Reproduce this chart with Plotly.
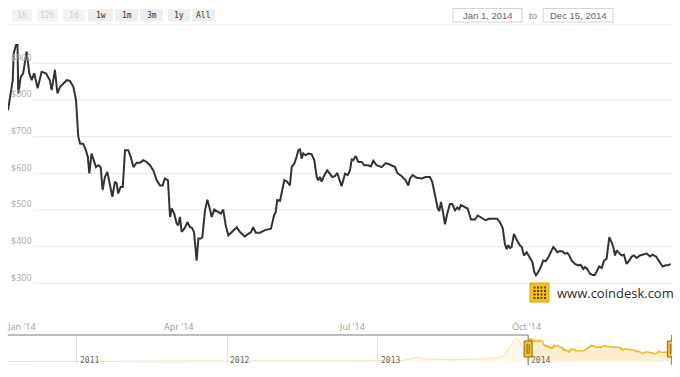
import plotly.graph_objects as go
import pandas as pd

# ---------------- data ----------------
# days after 2014-01-01 and BPI close price (USD)
days_2014 = [0, 1, 2.5, 3, 4.2, 5, 5.4, 6.7, 8, 9.8, 11.2, 12.5, 13.8, 15.6, 17.7, 20, 22, 23, 24.7, 26,
             27.4, 30.9, 32.6, 34.4, 35.8, 37, 37.9, 39.6, 41, 42, 42.8, 44, 45.3, 46.3, 47.5, 48.8, 49.8,
             51, 52.3, 53.7, 54.9, 56.3, 57.2, 58, 59.3, 60.4, 61.6, 63.3, 64.6, 66, 67.7, 69.5, 71.2, 73,
             74.7, 76.5, 78.3, 80, 81.4, 82.6, 84.2, 85.3, 86.2, 87.5, 88.8, 89.6, 90.5, 91.4, 92.8, 94.6,
             95.8, 96.7, 97.9, 99.3, 100.2, 101.6, 102.3, 103.7, 104.9, 106, 107.2, 108.6, 110.7, 112.1,
             113.3, 114.6, 116, 117.7, 120.4, 122.1, 124.7, 126.5, 127.9, 129.1, 130.4, 132.6, 135.3,
             138.4, 139.1, 140, 140.9, 141.7, 143.2, 144.4, 145.4, 146.7, 147.5, 148.4, 149.3, 150.7,
             151.9, 152.8, 153.7, 154.6, 155.4, 156.7, 158.1, 159.8, 161.2, 162.5, 163.3, 164.2, 165.1,
             166.5, 168, 169.5, 170.7, 172.1, 173.3, 175.6, 177.4, 178.8, 180, 180.9, 181.7, 183, 184.4,
             186.2, 187.5, 189.6, 191, 192.3, 194, 196.7, 198.8, 201, 203.7, 204.9, 207.2, 209.3, 210.7,
             211.6, 213, 215.1, 217.7, 219.8, 222.1, 223.3, 224.7, 226.2, 227, 227.9, 229.1, 230, 231.2,
             232.6, 233.8, 235.3, 236.5, 237.4, 238.4, 240.5, 241.9, 243.7, 245.8, 247.2, 249.3, 251.4,
             253.2, 255.4, 257.5, 258.9, 260.4, 261.6, 262.5, 263.3, 264.2, 265.1, 266.3, 267.7, 269.5,
             270.4, 271.6, 273, 274.7, 276, 277, 277.9, 279.1, 280.4, 281.7, 283, 284.4, 285.6, 287,
             287.9, 289.1, 290.5, 291.9, 293.2, 294.4, 295.4, 296.7, 298.4, 300.2, 301.4, 302.8, 303.7,
             304.9, 306.3, 307.7, 308.9, 310.2, 311.2, 312.5, 313.7, 315.1, 316.5, 317.7, 318.6, 319.5,
             320.4, 321.6, 323, 324.2, 325.6, 327, 328.3, 329.5, 330.9, 332.6, 334.4, 336.2, 337.9,
             339.3, 341.1, 342.8, 344.6, 346.2, 347.5, 348.8]
price_2014 = [772, 809, 854, 927, 950, 950, 818, 863, 873, 932, 873, 854, 873, 832, 877, 873, 854, 827, 882, 818,
              836, 854, 852, 836, 800, 700, 681, 680, 663, 645, 600, 654, 636, 617, 622, 617, 554,
              590, 604, 563, 536, 577, 572, 545, 563, 563, 663, 663, 645, 617, 629, 629, 636, 631,
              622, 608, 581, 567, 567, 586, 581, 481, 504, 490, 463, 458, 481, 440, 449, 467,
              453, 452, 440, 362, 422, 422, 426, 499, 528, 508, 481, 501, 494, 490,
              501, 458, 431, 440, 453, 440, 428, 435, 440, 453, 438, 438, 445,
              449, 467, 485, 494, 527, 525, 558, 581, 578, 572, 567, 617, 627,
              645, 663, 665, 640, 654, 649, 654, 652, 636, 590, 581, 590, 577,
              595, 608, 599, 590, 592, 601, 565, 599, 595, 608, 638, 636, 647, 631,
              631, 622, 622, 619, 634, 622, 617, 628, 624, 617, 601, 592, 581, 567,
              586, 595, 588, 586, 590, 590, 577, 545, 504, 497, 522, 490, 461, 490,
              516, 516, 499, 507, 502, 513, 508, 504, 474, 474, 485, 479, 472,
              476, 476, 476, 467, 450, 406, 393, 404, 396, 399, 435, 419, 403,
              399, 376, 385, 371, 358, 331, 322, 331, 344, 362, 360, 371, 385, 399,
              394, 385, 388, 387, 381, 383, 376, 362, 353, 349, 351, 339, 344,
              339, 326, 323, 323, 337, 346, 342, 362, 367, 426, 412, 399, 376,
              390, 383, 376, 378, 353, 362, 373, 376, 369, 376, 378, 381, 373,
              378, 373, 358, 346, 349, 349, 353]

# navigator history before 2014 (read from the small overview strip)
nav_hist_dates = ["2010-07-17", "2011-02-10", "2011-06-08", "2011-11-20", "2012-06-01", "2012-12-31",
                  "2013-02-28", "2013-04-09", "2013-04-20", "2013-07-05", "2013-10-01", "2013-11-01",
                  "2013-11-18", "2013-12-01", "2013-12-04", "2013-12-10", "2013-12-18", "2013-12-26",
                  "2013-12-31"]
nav_hist_price = [0.1, 1, 25, 2, 5, 13, 33, 185, 110, 70, 125, 200, 650, 940, 963, 880, 560, 700, 750]

y_tick_vals = [300, 400, 500, 600, 700, 800, 900]
y_tick_text = ["$300", "$400", "$500", "$600", "$700", "$800", "$900"]
x_tick_dates = ["2014-01-01", "2014-04-01", "2014-07-01", "2014-10-01"]
x_tick_text = ["Jan '14", "Apr '14", "Jul '14", "Oct '14"]
nav_year_dates = ["2011-01-01", "2012-01-01", "2013-01-01", "2014-01-01"]
nav_year_text = ["2011", "2012", "2013", "2014"]
range_buttons = ["1h", "12h", "1d", "1w", "1m", "3m", "1y", "All"]
range_enabled = [False, False, False, True, True, True, True, True]
date_from = "Jan 1, 2014"
date_to = "Dec 15, 2014"
sel_start, sel_end = "2014-01-01", "2014-12-15"

# ---------------- build ----------------
start = pd.Timestamp("2014-01-01")
dates_2014 = [start + pd.Timedelta(hours=round(d * 24)) for d in days_2014]

W, H = 680, 377
ML, MR, MT, MB = 8, 8, 27, 12
PW, PH = W - ML - MR, H - MT - MB


def px(x):
    return (x - ML) / PW


def py(y):
    return (H - MB - y) / PH


fig = go.Figure()

# navigator series
fig.add_trace(go.Scatter(
    x=pd.to_datetime(nav_hist_dates).tolist() + [dates_2014[0]],
    y=nav_hist_price + [price_2014[0]],
    xaxis="x2", yaxis="y2", mode="lines",
    line=dict(color="#f4e4ad", width=1), fill="tozeroy",
    fillcolor="rgba(250,236,200,0.35)", hoverinfo="skip", showlegend=False))
fig.add_trace(go.Scatter(
    x=dates_2014, y=price_2014, xaxis="x2", yaxis="y2", mode="lines",
    line=dict(color="#e8bb22", width=1.5), fill="tozeroy",
    fillcolor="rgba(247,205,120,0.35)", hoverinfo="skip", showlegend=False))

# main series
fig.add_trace(go.Scatter(
    x=dates_2014, y=price_2014, mode="lines",
    line=dict(color="#333333", width=2), showlegend=False))

shapes = []
annotations = []

# main gridlines
for v in y_tick_vals:
    shapes.append(dict(type="line", xref="paper", yref="y", x0=px(33), x1=1, y0=v, y1=v,
                       line=dict(color="#e8e8e8", width=1), layer="below"))
for v, t in zip(y_tick_vals, y_tick_text):
    annotations.append(dict(xref="paper", yref="y", x=0, y=v, text=t, showarrow=False,
                            xanchor="left", yanchor="middle", xshift=1, yshift=6,
                            font=dict(family="Open Sans", size=9, color="#aaaaaa")))

# x labels of main chart
for d, t in zip(x_tick_dates, x_tick_text):
    first = d == x_tick_dates[0]
    annotations.append(dict(xref="x", yref="paper", x=d, y=py(326), text=t, showarrow=False,
                            xanchor="left" if first else "center", yanchor="middle",
                            xshift=-3 if first else 0,
                            font=dict(family="Open Sans", size=9, color="#999999")))

# top separator
shapes.append(dict(type="line", xref="paper", yref="paper", x0=0, x1=1, y0=py(25), y1=py(25),
                   line=dict(color="#ececec", width=1)))

# range selector buttons
btn_x = [(12, 32), (37, 58), (63, 85), (88, 113), (115, 138), (140, 163), (168, 190), (192, 215)]
for (x0, x1), lab, en in zip(btn_x, range_buttons, range_enabled):
    shapes.append(dict(type="rect", xref="paper", yref="paper", x0=px(x0), x1=px(x1),
                       y0=py(21.5), y1=py(9), fillcolor="#eeeeee" if en else "#f3f3f3",
                       line=dict(width=0)))
    annotations.append(dict(xref="paper", yref="paper", x=px((x0 + x1) / 2), y=py(15.5),
                            text=lab, showarrow=False, xanchor="center", yanchor="middle",
                            font=dict(family="DejaVu Sans Mono", size=8,
                                      color="#333333" if en else "#cccccc")))

# date inputs
for (x0, x1), lab in zip([(453, 522), (543, 613)], [date_from, date_to]):
    shapes.append(dict(type="rect", xref="paper", yref="paper", x0=px(x0), x1=px(x1),
                       y0=py(22), y1=py(8.5), fillcolor="white",
                       line=dict(color="#d4d4d4", width=1)))
    annotations.append(dict(xref="paper", yref="paper", x=px((x0 + x1) / 2), y=py(15.5),
                            text=lab, showarrow=False, xanchor="center", yanchor="middle",
                            font=dict(family="Liberation Sans", size=9.5, color="#666666")))
annotations.append(dict(xref="paper", yref="paper", x=px(533), y=py(15.5), text="to",
                        showarrow=False, xanchor="center", yanchor="middle",
                        font=dict(family="Liberation Sans", size=9.5, color="#888888")))

# navigator outline and handles
shapes.append(dict(type="line", xref="x2", yref="paper", x0="2010-07-17", x1=sel_start,
                   y0=py(335), y1=py(335), line=dict(color="#7a7a7a", width=1.2)))
for d in [sel_start, sel_end]:
    shapes.append(dict(type="line", xref="x2", yref="paper", x0=d, x1=d,
                       y0=py(365), y1=py(335), line=dict(color="#7a7a7a", width=1)))
    shapes.append(dict(type="rect", xref="x2", yref="paper", xsizemode="pixel", xanchor=d,
                       x0=-4, x1=4, y0=py(357), y1=py(341), fillcolor="#f2c22f",
                       line=dict(color="#8a6a14", width=1)))
    shapes.append(dict(type="line", xref="x2", yref="paper", xsizemode="pixel", xanchor=d,
                       x0=-1, x1=-1, y0=py(354), y1=py(344), line=dict(color="#8a6a14", width=1)))
    shapes.append(dict(type="line", xref="x2", yref="paper", xsizemode="pixel", xanchor=d,
                       x0=1, x1=1, y0=py(354), y1=py(344), line=dict(color="#8a6a14", width=1)))

for d, t in zip(nav_year_dates, nav_year_text):
    annotations.append(dict(xref="x2", yref="paper", x=d, y=py(360), text=t, showarrow=False,
                            xanchor="left", yanchor="middle", xshift=1,
                            font=dict(family="DejaVu Sans Mono", size=8, color="#666666")))

# coindesk logo
shapes.append(dict(type="rect", xref="paper", yref="paper", x0=px(530), x1=px(549),
                   y0=py(302), y1=py(283), fillcolor="#f5c21b", line=dict(color="#e0a800", width=1)))
for i in range(4):
    for j in range(4):
        cx, cy = 533.5 + i * 3.5, 286.5 + j * 3.5
        shapes.append(dict(type="rect", xref="paper", yref="paper", x0=px(cx), x1=px(cx + 2),
                           y0=py(cy + 2), y1=py(cy), fillcolor="#5a4000", line=dict(width=0)))
annotations.append(dict(xref="paper", yref="paper", x=px(555), y=py(292.5),
                        text="www.coindesk.com", showarrow=False, xanchor="left", yanchor="middle",
                        font=dict(family="Open Sans", size=13, color="#2b2b2b")))

fig.update_layout(
    width=W, height=H, margin=dict(l=ML, r=MR, t=MT, b=MB),
    paper_bgcolor="white", plot_bgcolor="white", showlegend=False,
    xaxis=dict(domain=[0, 1], range=["2014-01-01", "2014-12-16 12:00"], anchor="y",
               showgrid=False, zeroline=False, showticklabels=False, showline=False),
    yaxis=dict(domain=[py(315), 1], range=[213.6, 999], showgrid=False, zeroline=False,
               showticklabels=False),
    xaxis2=dict(domain=[0, 1], range=["2010-07-17 12:00", "2014-12-16 12:00"], anchor="y2",
                showgrid=True, gridcolor="#e6e6e6", gridwidth=1, tickvals=nav_year_dates,
                showticklabels=False, zeroline=False, showline=False, ticks=""),
    yaxis2=dict(domain=[0, py(335)], range=[-143, 1086], showgrid=False, zeroline=False,
                showticklabels=False),
    shapes=shapes, annotations=annotations,
)

fig.write_html("out.html", config={"displayModeBar": False},
               post_script="document.body.style.margin='0';document.body.style.overflow='hidden';")
